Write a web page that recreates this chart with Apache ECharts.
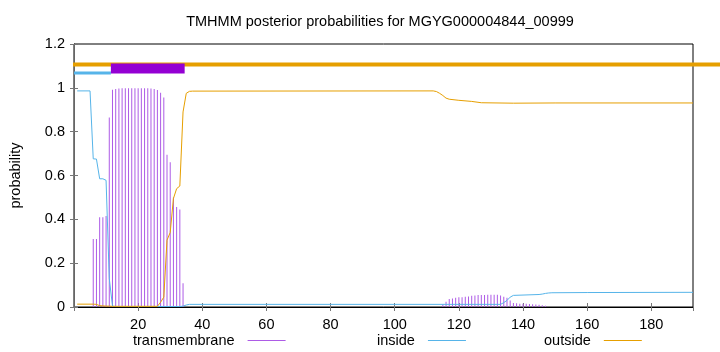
<!DOCTYPE html>
<html>
<head>
<meta charset="utf-8">
<script src="https://cdn.jsdelivr.net/npm/echarts@6/dist/echarts.min.js"></script>
<style>
html,body{margin:0;padding:0;background:#fff;}
#chart{width:720px;height:352px;}
</style>
</head>
<body>
<div id="chart"></div>
<script>
// ---- data (residue index, posterior probability) ----
const titleText = 'TMHMM posterior probabilities for MGYG000004844_00999';
const seqLength = 193;

const tmResidues = [6,7,8,9,10,11,12,13,14,15,16,17,18,19,20,21,22,23,24,25,26,27,28,29,30,31,32,33,34,
  115,116,117,118,119,120,121,122,123,124,125,126,127,128,129,130,131,132,133,134,135,136,137,138,139,140,141,142,143,144,145,146,147];
const tmProb = [0.31,0.31,0.41,0.41,0.415,0.865,0.991,0.995,0.997,0.998,0.998,0.998,0.998,0.998,0.998,0.998,0.998,0.998,0.997,0.995,0.99,0.977,0.956,0.695,0.66,0.50,0.456,0.445,0.108,
  0.01,0.024,0.036,0.039,0.042,0.045,0.045,0.047,0.048,0.051,0.053,0.055,0.055,0.055,0.056,0.056,0.056,0.056,0.053,0.047,0.042,0.03,0.018,0.017,0.015,0.015,0.015,0.014,0.012,0.011,0.01,0.008,0.006];

const insideResidues = [1,5,6,7,8,9,10,11,12,13,33,34,35,36,133,134,135,136,137,145,146,147,148,149,160,193];
const insideProb     = [0.986,0.986,0.676,0.675,0.585,0.585,0.578,0.13,0.004,0.002,0.002,0.004,0.009,0.012,0.012,0.02,0.03,0.045,0.053,0.057,0.059,0.062,0.064,0.065,0.066,0.067];

const outsideResidues = [1,6,7,8,9,10,11,12,26,27,28,29,30,31,32,33,34,35,36,37,112,113,114,115,116,117,120,124,127,137,150,193];
const outsideProb     = [0.013,0.013,0.012,0.006,0.005,0.004,0.004,0.003,0.003,0.022,0.045,0.305,0.34,0.495,0.54,0.552,0.89,0.975,0.984,0.985,0.986,0.983,0.975,0.965,0.953,0.948,0.943,0.938,0.932,0.93,0.931,0.931];

// predicted topology segments [start, end] (residue units)
const segInside = [0, 11.5];
const segTM = [11.5, 34.5];
const segOutside = [0, 201.4];

const purple = '#9400d3', blue = '#56b4e9', orange = '#e69f00';
const zip = (xs, ys) => xs.map((x, i) => [x, ys[i]]);
const FONT = '"Liberation Sans", Arial, Helvetica, sans-serif';
const FS = 14.5;

const chart = echarts.init(document.getElementById('chart'), null, {renderer: 'canvas'});
const axisTick = {show: true, inside: true, length: 4, lineStyle: {color: '#777', width: 1}};
const legendBase = {orient: 'horizontal', align: 'right', padding: 0, top: 333, itemWidth: 38, itemHeight: 1, icon: 'rect', selectedMode: false,
  formatter: name => name + '\u00a0\u00a0',
  textStyle: {fontFamily: FONT, fontSize: FS, color: '#000'}};

chart.setOption({
  animation: false,
  backgroundColor: '#fff',
  title: {text: titleText, left: 380, top: 14, textAlign: 'center', padding: 0,
    textStyle: {fontFamily: FONT, fontSize: FS, fontWeight: 'normal', color: '#000'}},
  grid: [
    {left: 73, right: 27, top: 44, bottom: 45, show: true, borderColor: '#000', borderWidth: 1, backgroundColor: 'transparent'},
    {left: 73, right: 0, top: 44, bottom: 45, show: false}
  ],
  legend: [
    Object.assign({}, legendBase, {left: 133, data: ['transmembrane']}),
    Object.assign({}, legendBase, {left: 377, data: ['inside']}),
    Object.assign({}, legendBase, {left: 544, data: ['outside']})
  ],
  xAxis: [
    {type: 'value', gridIndex: 0, min: 0, max: seqLength, interval: 20, position: 'bottom',
     axisLine: {show: true, lineStyle: {color: '#000'}}, axisTick: axisTick, splitLine: {show: false},
     axisLabel: {showMinLabel: false, showMaxLabel: false, margin: 10, fontFamily: FONT, fontSize: FS, color: '#000'}},
    {type: 'value', gridIndex: 0, min: 0, max: seqLength, interval: 20, position: 'top',
     axisLine: {show: true, lineStyle: {color: '#000'}}, axisTick: axisTick, splitLine: {show: false},
     axisLabel: {show: false}},
    {type: 'value', gridIndex: 1, min: 0, max: segOutside[1], show: false}
  ],
  yAxis: [
    {type: 'value', gridIndex: 0, min: 0, max: 1.2, interval: 0.2, position: 'left',
     name: 'probability', nameLocation: 'middle', nameGap: 51,
     nameTextStyle: {fontFamily: FONT, fontSize: FS, color: '#000'},
     axisLine: {show: true, lineStyle: {color: '#000'}}, axisTick: axisTick, splitLine: {show: false},
     axisLabel: {margin: 9, fontFamily: FONT, fontSize: FS, color: '#000'}},
    {type: 'value', gridIndex: 0, min: 0, max: 1.2, interval: 0.2, position: 'right',
     axisLine: {show: true, lineStyle: {color: '#666'}}, axisTick: axisTick, splitLine: {show: false},
     axisLabel: {show: false}},
    {type: 'value', gridIndex: 1, min: 0, max: 1.2, show: false}
  ],
  series: [
    {name: 'transmembrane', type: 'bar', xAxisIndex: 0, yAxisIndex: 0, barWidth: 1, z: 2,
     itemStyle: {color: '#ad5be6'}, data: zip(tmResidues, tmProb)},
    {name: 'inside', type: 'line', xAxisIndex: 0, yAxisIndex: 0, showSymbol: false, z: 3,
     lineStyle: {color: blue, width: 1}, itemStyle: {color: blue}, data: zip(insideResidues, insideProb)},
    {name: 'outside', type: 'line', xAxisIndex: 0, yAxisIndex: 0, showSymbol: false, z: 4,
     lineStyle: {color: orange, width: 1}, itemStyle: {color: orange}, data: zip(outsideResidues, outsideProb)},
    {name: 'outsideSeg', type: 'line', xAxisIndex: 2, yAxisIndex: 2, showSymbol: false, clip: false, z: 5,
     lineStyle: {color: orange, width: 4, cap: 'butt'}, data: segOutside.map(x => [x, 1.106])},
    {name: 'insideSeg', type: 'line', xAxisIndex: 0, yAxisIndex: 0, showSymbol: false, clip: false, z: 5,
     lineStyle: {color: blue, width: 3, cap: 'butt'}, data: segInside.map(x => [x, 1.068])},
    {name: 'tmSeg', type: 'line', xAxisIndex: 0, yAxisIndex: 0, showSymbol: false, clip: false, z: 6,
     lineStyle: {color: purple, width: 10, cap: 'butt'}, data: segTM.map(x => [x, 1.0886])}
  ]
});
</script>
</body>
</html>
